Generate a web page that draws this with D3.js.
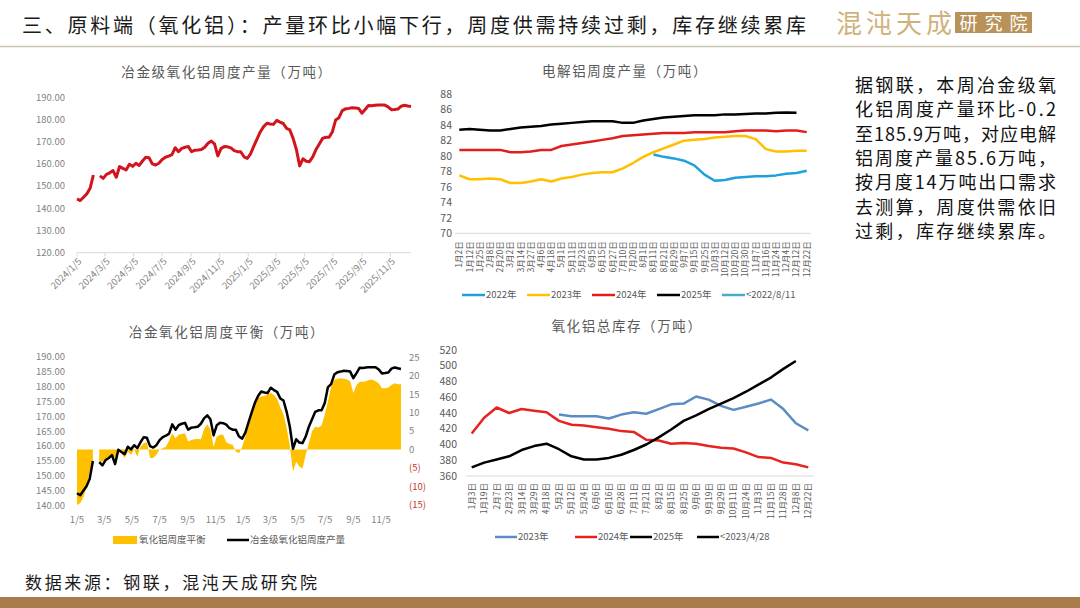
<!DOCTYPE html>
<html>
<head>
<meta charset="utf-8">
<script src="https://cdn.jsdelivr.net/npm/d3@7"></script>
<style>
  body { margin: 0; background: #fff; }
  svg { display: block; font-family: "Noto Sans CJK SC", "Noto Sans", sans-serif; }
</style>
</head>
<body>
<svg id="slide" width="1080" height="608"></svg>
<script>
// ---- data ----
const headline = "三、原料端（氧化铝）：产量环比小幅下行，周度供需持续过剩，库存继续累库";
const noteLines = [
  "据钢联，本周冶金级氧",
  "化铝周度产量环比-0.2",
  "至185.9万吨，对应电解",
  "铝周度产量85.6万吨，",
  "按月度14万吨出口需求",
  "去测算，周度供需依旧",
  "过剩，库存继续累库。",
];
const sourceText = "数据来源：钢联，混沌天成研究院";

// weekly, first week 2024-01-05, last 2025-12-19 (null = holiday gap)
const weekStart = "2024-01-05";
const aluminaOutput = [
  144.2, 143.5, 145.0, 146.5, 149.0, 155.0, null, 154.6, 153.5, 155.3,
  156.0, 157.0, 154.0, 158.8, 158.0, 157.3, 159.8, 158.9, 160.3, 159.3,
  161.3, 163.0, 162.8, 160.0, 159.5, 160.3, 162.0, 163.0, 163.5, 164.2,
  167.3, 165.5, 167.0, 167.5, 167.8, 165.5, 166.2, 166.3, 166.5, 167.5,
  169.3, 170.3, 169.0, 163.6, 167.0, 167.8, 167.7, 167.2, 166.0, 165.5,
  165.5, 163.2, 162.5, 164.5, 168.0, 171.3, 174.5, 176.8, 178.3, 178.0,
  177.8, 179.6, 178.8, 178.2, 176.0, 175.3, 171.5, 166.5, 159.1, 162.3,
  161.2, 161.0, 163.2, 166.5, 169.0, 171.5, 172.0, 172.0, 174.5, 179.8,
  180.8, 184.0, 184.8, 185.0, 185.3, 185.2, 185.0, 182.8, 184.5, 186.3,
  186.2, 186.4, 186.5, 186.5, 186.5, 185.7, 184.4, 184.5, 184.7, 186.0,
  186.4, 186.1, 185.9,
];
const aluminaBalance = [
  -15, -14.5, -13, -10, -6, -3.5, null, -3.3, -3.3, -2.5,
  -1.8, -1.4, -2.3, 0, -1, -2.3, -0.5, -1.4, 0, -1.9,
  0.8, 1.7, 2.0, -2.3, -2.3, -1.4, 0, 0.4, 0.8, 2.5,
  4.4, 3.1, 4.0, 4.2, 4.4, 2.2, 2.6, 2.8, 2.9, 2.8,
  5.5, 6.9, 5.5, 0.8, 3.5, 4.0, 4.0, 2.0, 1.5, 1.3,
  -0.5, -1.0, 0.8, 3.5, 6.5, 9.5, 12.0, 14.0, 14.4, 14.6,
  15.0, 15.3, 14.8, 13.8, 11.5, 9.6, 6.0, 1.0, -6.0, -3.3,
  -4.6, -5.1, -1.4, 1.7, 5.0, 6.2, 6.0, 6.5, 9.5, 13.0,
  17.0, 18.9, 19.2, 19.3, 19.2, 19.0, 18.5, 15.3, 17.5, 18.4,
  18.4, 18.5, 18.9, 18.9, 18.5, 18.0, 16.6, 16.6, 16.8, 17.5,
  18.0, 17.7, 17.7,
];
const dateTicks = [
  "2024-01-05", "2024-03-05", "2024-05-05", "2024-07-05", "2024-09-05", "2024-11-05",
  "2025-01-05", "2025-03-05", "2025-05-05", "2025-07-05", "2025-09-05", "2025-11-05",
];

// electrolytic aluminium weekly output by year
const elecLabels = [
  "1月2日", "1月12日", "1月25日", "2月8日", "2月20日", "3月2日", "3月14日", "3月27日",
  "4月6日", "4月18日", "5月1日", "5月11日", "5月23日", "6月5日", "6月15日", "6月27日",
  "7月10日", "7月20日", "8月1日", "8月11日", "8月21日", "8月29日", "9月7日", "9月15日",
  "9月25日", "10月3日", "10月12日", "10月20日", "10月30日", "11月7日", "11月16日",
  "11月24日", "12月4日", "12月12日", "12月22日",
];
const elec2022 = [
  null, null, null, null, null, null, null, null, null, null,
  null, null, null, null, null, null, null, null, null,
  80.2, 79.9, 79.7, 79.4, 78.8, 77.6, 76.8, 76.9, 77.2, 77.3,
  77.4, 77.4, 77.5, 77.7, 77.8, 78.1,
];
const elec2023 = [
  77.5, 77.0, 77.0, 77.1, 77.0, 76.5, 76.5, 76.7, 77.0, 76.7,
  77.1, 77.3, 77.6, 77.8, 77.9, 77.9, 78.4, 79.1, 79.9, 80.5,
  81.0, 81.5, 82.0, 82.1, 82.2, 82.4, 82.5, 82.6, 82.6, 82.2,
  80.9, 80.6, 80.6, 80.7, 80.7,
];
const elec2024 = [
  80.8, 80.8, 80.8, 80.8, 80.8, 80.5, 80.5, 80.6, 80.8, 80.8,
  81.3, 81.5, 81.7, 81.9, 82.1, 82.3, 82.6, 82.7, 82.8, 82.9,
  83.0, 83.0, 83.0, 83.1, 83.1, 83.1, 83.1, 83.2, 83.3, 83.3,
  83.3, 83.2, 83.3, 83.3, 83.1,
];
const elec2025 = [
  83.4, 83.5, 83.4, 83.3, 83.3, 83.5, 83.7, 83.8, 83.9, 84.1,
  84.2, 84.3, 84.4, 84.5, 84.5, 84.5, 84.3, 84.3, 84.6, 84.8,
  85.0, 85.1, 85.2, 85.3, 85.3, 85.3, 85.4, 85.4, 85.45, 85.5,
  85.5, 85.6, 85.65, 85.6, null,
];
const elecLegend = ["2022年", "2023年", "2024年", "2025年", "<2022/8/11"];

// alumina total inventory by year
const stockLabels = [
  "1月3日", "1月19日", "2月7日", "2月23日", "3月14日", "3月29日", "4月18日",
  "5月2日", "5月12日", "5月24日", "6月6日", "6月16日", "6月28日", "7月11日",
  "7月21日", "8月2日", "8月15日", "8月25日", "9月6日", "9月19日", "9月29日",
  "10月11日", "10月24日", "11月3日", "11月15日", "11月28日", "12月8日", "12月22日",
];
const stock2023 = [
  null, null, null, null, null, null, null,
  438, 436, 436, 436, 433, 438, 441, 439, 445, 451, 452, 461, 457,
  449, 444, 448, 452, 457, 445, 427, 418,
];
const stock2024 = [
  414, 434, 447, 440, 445, 443, 441, 430, 425, 424,
  422, 420, 417, 416, 406, 405, 401, 402, 401, 398,
  396, 395, 390, 384, 383, 377, 375, 371,
];
const stock2025 = [
  371, 377, 381, 385, 393, 398, 401, 394, 385, 381,
  381, 383, 387, 393, 400, 409, 419, 430, 437, 445,
  452, 459, 467, 476, 485, 496, 506, null,
];
const stockLegend = ["2023年", "2024年", "2025年", "<2023/4/28"];

// ---- drawing ----
const svg = d3.select("#slide");
const parseDay = d3.timeParse("%Y-%m-%d");
const t0 = parseDay(weekStart);
const weekDate = (i) => d3.timeDay.offset(t0, i * 7);
const tEnd = weekDate(aluminaOutput.length - 1);
const tickDates = dateTicks.map(parseDay);
const grey = "#595959";

// header
svg.append("text")
  .attr("x", 22).attr("y", 33)
  .attr("textLength", 784)
  .attr("lengthAdjust", "spacing")
  .style("font-size", "20px")
  .attr("fill", "#1a1a1a")
  .text(headline);

svg.append("line")
  .attr("x1", 0).attr("x2", 1080)
  .attr("y1", 46.5).attr("y2", 46.5)
  .attr("stroke", "#cbc2b0")
  .attr("stroke-width", 1.5);

svg.append("text")
  .attr("x", 836).attr("y", 33)
  .attr("textLength", 116)
  .style("font-size", "26px")
  .attr("fill", "#cfb27a")
  .text("混沌天成");
svg.append("rect")
  .attr("x", 955).attr("y", 12)
  .attr("width", 77).attr("height", 21)
  .attr("fill", "#b89259");
svg.append("text")
  .attr("x", 993.5).attr("y", 29.5)
  .attr("text-anchor", "middle")
  .attr("textLength", 68)
  .style("font-size", "18px")
  .attr("fill", "#fff")
  .text("研究院");

// note on the right
svg.append("g")
  .selectAll("text")
  .data(noteLines)
  .join("text")
  .attr("x", 855)
  .attr("y", (d, i) => 92 + i * 24.3)
  .attr("textLength", 201)
  .attr("lengthAdjust", "spacing")
  .style("font-size", "18px")
  .attr("fill", "#111")
  .text((d) => d);

// footer
svg.append("text")
  .attr("x", 25).attr("y", 589)
  .attr("textLength", 292)
  .style("font-size", "17px")
  .attr("fill", "#1a1a1a")
  .text(sourceText);
svg.append("rect")
  .attr("x", 0).attr("y", 597)
  .attr("width", 1080).attr("height", 11)
  .attr("fill", "#a97d4b");

function chartTitle(x, y, label) {
  svg.append("text")
    .attr("x", x).attr("y", y)
    .attr("text-anchor", "middle")
    .style("font-size", "13.5px")
    .style("letter-spacing", "1.6px")
    .attr("fill", grey)
    .text(label);
}

function legendLine(g, x, y, colour, label, len) {
  g.append("line")
    .attr("x1", x).attr("x2", x + len)
    .attr("y1", y).attr("y2", y)
    .attr("stroke", colour)
    .attr("stroke-width", 2.5);
  g.append("text")
    .attr("x", x + len + 1).attr("y", y)
    .attr("dy", "0.35em")
    .style("font-size", "9.5px")
    .attr("fill", grey)
    .text(label);
}

// ---- chart A: alumina weekly output ----
{
  const g = svg.append("g");
  chartTitle(227, 77, "冶金级氧化铝周度产量（万吨）");

  const x = d3.scaleTime().domain([t0, tEnd]).range([77, 411]);
  const y = d3.scaleLinear().domain([120, 190]).range([252.7, 97.3]);

  g.append("g")
    .selectAll("text")
    .data(d3.range(120, 191, 10))
    .join("text")
    .attr("x", 65)
    .attr("y", (d) => y(d))
    .attr("dy", "0.35em")
    .attr("text-anchor", "end")
    .style("font-size", "9.5px")
    .attr("fill", "#7f7f7f")
    .text(d3.format(".2f"));

  g.append("line")
    .attr("x1", 77).attr("x2", 411)
    .attr("y1", y(120)).attr("y2", y(120))
    .attr("stroke", "#d9d9d9");
  g.append("g")
    .selectAll("line")
    .data(tickDates)
    .join("line")
    .attr("x1", (d) => x(d)).attr("x2", (d) => x(d))
    .attr("y1", y(120)).attr("y2", y(120) + 4)
    .attr("stroke", "#d9d9d9");
  g.append("g")
    .selectAll("text")
    .data(tickDates)
    .join("text")
    .attr("transform", (d) => `translate(${x(d) + 3},${y(120) + 7}) rotate(-45)`)
    .attr("text-anchor", "end")
    .attr("dy", "0.35em")
    .style("font-size", "9.5px")
    .attr("fill", "#7f7f7f")
    .text(d3.timeFormat("%Y/%-m/%-d"));

  const line = d3.line()
    .defined((d) => d != null)
    .x((d, i) => x(weekDate(i)))
    .y((d) => y(d));
  g.append("path")
    .attr("d", line(aluminaOutput))
    .attr("fill", "none")
    .attr("stroke", "#d2141c")
    .attr("stroke-width", 3)
    .attr("stroke-linejoin", "round");
}

// ---- chart B: electrolytic aluminium output ----
{
  const g = svg.append("g");
  chartTitle(625, 76, "电解铝周度产量（万吨）");

  const x = d3.scalePoint().domain(elecLabels).range([459.3, 806.7]);
  const y = d3.scaleLinear().domain([70, 88]).range([233.3, 94.3]);

  g.append("g")
    .selectAll("text")
    .data(d3.range(70, 89, 2))
    .join("text")
    .attr("x", 452)
    .attr("y", (d) => y(d))
    .attr("dy", "0.35em")
    .attr("text-anchor", "end")
    .style("font-size", "10.5px")
    .attr("fill", grey)
    .text((d) => d);

  g.append("line")
    .attr("x1", 455).attr("x2", 811)
    .attr("y1", y(70)).attr("y2", y(70))
    .attr("stroke", "#d9d9d9");
  g.append("g")
    .selectAll("text")
    .data(elecLabels)
    .join("text")
    .attr("transform", (d) => `translate(${x(d)},${y(70) + 8}) rotate(-90)`)
    .attr("text-anchor", "end")
    .attr("dy", "0.35em")
    .style("font-size", "8.5px")
    .attr("fill", grey)
    .text((d) => d);

  const series = [
    { values: elec2022, colour: "#1ea0dc" },
    { values: elec2023, colour: "#ffc000" },
    { values: elec2024, colour: "#e21d1d" },
    { values: elec2025, colour: "#000000" },
  ];
  const line = d3.line()
    .defined((d) => d != null)
    .x((d, i) => x(elecLabels[i]))
    .y((d) => y(d));
  g.append("g")
    .selectAll("path")
    .data(series)
    .join("path")
    .attr("d", (s) => line(s.values))
    .attr("fill", "none")
    .attr("stroke", (s) => s.colour)
    .attr("stroke-width", 2.5)
    .attr("stroke-linejoin", "round");

  const lg = g.append("g");
  const colours = ["#1ea0dc", "#ffc000", "#e21d1d", "#000000", "#4bacc6"];
  const lx = [462, 527, 592, 657, 722];
  elecLegend.forEach((name, i) => legendLine(lg, lx[i], 295, colours[i], name, 23));
}

// ---- chart C: alumina balance ----
{
  const g = svg.append("g");
  chartTitle(227, 337, "冶金氧化铝周度平衡（万吨）");

  const x = d3.scaleTime().domain([t0, tEnd]).range([77, 401]);
  const yL = d3.scaleLinear().domain([140, 190]).range([505.7, 356.7]);
  const yR = d3.scaleLinear().domain([-15, 25]).range([505, 357.3]);

  g.append("g")
    .selectAll("text")
    .data(d3.range(140, 191, 5))
    .join("text")
    .attr("x", 65)
    .attr("y", (d) => yL(d))
    .attr("dy", "0.35em")
    .attr("text-anchor", "end")
    .style("font-size", "9.5px")
    .attr("fill", "#7f7f7f")
    .text(d3.format(".2f"));

  g.append("g")
    .selectAll("text")
    .data(d3.range(-15, 26, 5))
    .join("text")
    .attr("x", 409)
    .attr("y", (d) => yR(d))
    .attr("dy", "0.35em")
    .style("font-size", "9.5px")
    .attr("fill", (d) => (d < 0 ? "#c0392b" : "#7f7f7f"))
    .text((d) => (d < 0 ? `(${-d})` : d));

  g.append("g")
    .selectAll("text")
    .data(tickDates)
    .join("text")
    .attr("x", (d) => x(d))
    .attr("y", 523)
    .attr("text-anchor", "middle")
    .style("font-size", "9.5px")
    .attr("fill", "#7f7f7f")
    .text(d3.timeFormat("%-m/%-d"));

  const area = d3.area()
    .defined((d) => d != null)
    .x((d, i) => x(weekDate(i)))
    .y0(yR(0))
    .y1((d) => yR(d));
  g.append("path")
    .attr("d", area(aluminaBalance))
    .attr("fill", "#ffc000");

  const line = d3.line()
    .defined((d) => d != null)
    .x((d, i) => x(weekDate(i)))
    .y((d) => yL(d));
  g.append("path")
    .attr("d", line(aluminaOutput))
    .attr("fill", "none")
    .attr("stroke", "#000")
    .attr("stroke-width", 2.5)
    .attr("stroke-linejoin", "round");

  g.append("rect")
    .attr("x", 113).attr("y", 536)
    .attr("width", 24).attr("height", 8)
    .attr("fill", "#ffc000");
  g.append("text")
    .attr("x", 139).attr("y", 540)
    .attr("dy", "0.35em")
    .style("font-size", "9.5px")
    .attr("fill", grey)
    .text("氧化铝周度平衡");
  legendLine(g, 227, 540, "#000", "冶金级氧化铝周度产量", 22);
}

// ---- chart D: alumina inventory ----
{
  const g = svg.append("g");
  chartTitle(627, 331, "氧化铝总库存（万吨）");

  const x = d3.scalePoint().domain(stockLabels).range([471.7, 808.3]);
  const y = d3.scaleLinear().domain([360, 520]).range([476, 350]);

  g.append("g")
    .selectAll("text")
    .data(d3.range(360, 521, 20))
    .join("text")
    .attr("x", 457)
    .attr("y", (d) => y(d))
    .attr("dy", "0.35em")
    .attr("text-anchor", "end")
    .style("font-size", "10.5px")
    .attr("fill", grey)
    .text((d) => d);

  g.append("line")
    .attr("x1", 466).attr("x2", 814)
    .attr("y1", y(360)).attr("y2", y(360))
    .attr("stroke", "#d9d9d9");
  g.append("g")
    .selectAll("text")
    .data(stockLabels)
    .join("text")
    .attr("transform", (d) => `translate(${x(d)},${y(360) + 7}) rotate(-90)`)
    .attr("text-anchor", "end")
    .attr("dy", "0.35em")
    .style("font-size", "8.5px")
    .attr("fill", grey)
    .text((d) => d);

  const series = [
    { values: stock2023, colour: "#5b8cc4" },
    { values: stock2024, colour: "#e8231f" },
    { values: stock2025, colour: "#000000" },
  ];
  const line = d3.line()
    .defined((d) => d != null)
    .x((d, i) => x(stockLabels[i]))
    .y((d) => y(d));
  g.append("g")
    .selectAll("path")
    .data(series)
    .join("path")
    .attr("d", (s) => line(s.values))
    .attr("fill", "none")
    .attr("stroke", (s) => s.colour)
    .attr("stroke-width", 2.5)
    .attr("stroke-linejoin", "round");

  const lg = g.append("g");
  const colours = ["#5b8cc4", "#e8231f", "#000000", "#000000"];
  const lx = [495, 575, 630, 697];
  stockLegend.forEach((name, i) => legendLine(lg, lx[i], 537, colours[i], name, 22));
}
</script>
</body>
</html>
